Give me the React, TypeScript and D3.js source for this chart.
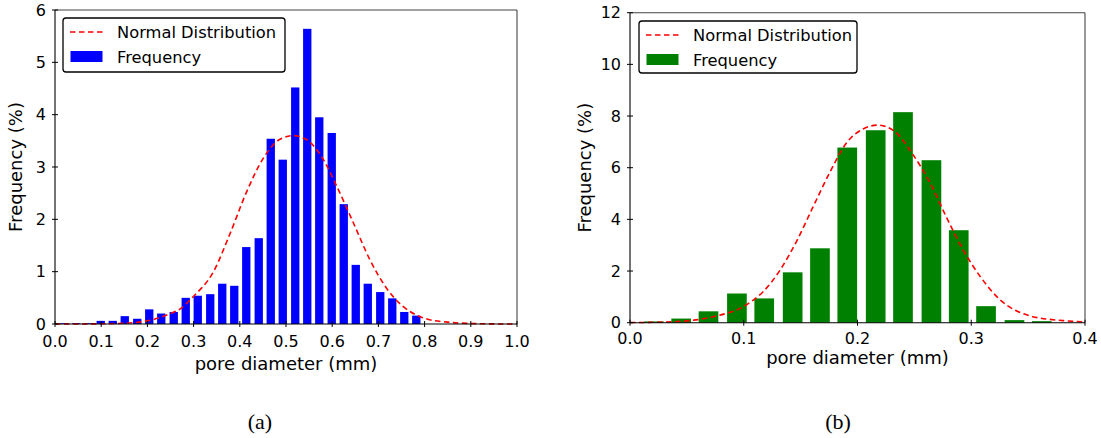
import React from "react";
import * as d3 from "d3";

// ---------- Data: panel (a) ----------
const binCentersA = [
  0.020, 0.046, 0.072, 0.099, 0.125, 0.151, 0.178, 0.204, 0.230, 0.257,
  0.283, 0.309, 0.336, 0.362, 0.388, 0.414, 0.441, 0.467, 0.493, 0.520,
  0.546, 0.572, 0.599, 0.625, 0.651, 0.677, 0.704, 0.730, 0.756, 0.782,
];
const freqA = [
  0.015, 0.015, 0.015, 0.06, 0.06, 0.15, 0.10, 0.28, 0.20, 0.23,
  0.50, 0.54, 0.57, 0.77, 0.73, 1.47, 1.64, 3.54, 3.14, 4.52,
  5.64, 3.95, 3.65, 2.29, 1.13, 0.77, 0.61, 0.49, 0.23, 0.16,
];
const normXA = [
  0, 0.05, 0.1, 0.15, 0.2, 0.25, 0.271, 0.299, 0.343, 0.379, 0.415, 0.451,
  0.487, 0.516, 0.545, 0.581, 0.61, 0.646, 0.682, 0.718, 0.754, 0.79, 0.807,
  0.85, 0.9, 0.95, 1.0,
];
const normYA = [
  0, 0.001, 0.004, 0.015, 0.06, 0.2, 0.29, 0.52, 1.0, 1.73, 2.53, 3.17,
  3.53, 3.6, 3.52, 3.14, 2.63, 1.93, 1.22, 0.68, 0.33, 0.14, 0.09,
  0.035, 0.01, 0.002, 0,
];
const xTicksA = [0, 0.1, 0.2, 0.3, 0.4, 0.5, 0.6, 0.7, 0.8, 0.9, 1.0];
const yTicksA = [0, 1, 2, 3, 4, 5, 6];

// ---------- Data: panel (b) ----------
const binCentersB = [
  0.021, 0.045, 0.069, 0.094, 0.118, 0.143, 0.167, 0.191, 0.216, 0.240,
  0.265, 0.289, 0.313, 0.338, 0.362,
];
const freqB = [
  0.05, 0.16, 0.44, 1.13, 0.94, 1.95, 2.88, 6.78, 7.45, 8.15,
  6.29, 3.58, 0.64, 0.10, 0.06,
];
const normXB = [
  0, 0.02, 0.044, 0.073, 0.103, 0.117, 0.132, 0.147, 0.161, 0.176, 0.19,
  0.205, 0.218, 0.232, 0.249, 0.264, 0.278, 0.293, 0.308, 0.325, 0.352,
  0.381, 0.4,
];
const normYB = [
  0.005, 0.015, 0.05, 0.23, 0.71, 1.2, 2.04, 3.2, 4.49, 5.85, 6.94,
  7.5, 7.65, 7.43, 6.49, 5.4, 4.1, 2.81, 1.78, 0.9, 0.26,
  0.08, 0.03,
];
const xTicksB = [0, 0.1, 0.2, 0.3, 0.4];
const yTicksB = [0, 2, 4, 6, 8, 10, 12];

const legendLabels = ["Normal Distribution", "Frequency"];
const xLabel = "pore diameter (mm)";
const yLabel = "Frequency (%)";

const FONT = "'DejaVu Sans', Verdana, sans-serif";

type PanelProps = {
  left: number;
  right: number;
  top: number;
  bottom: number;
  xMax: number;
  yMax: number;
  xTicks: number[];
  yTicks: number[];
  centers: number[];
  values: number[];
  barWidth: number;
  color: string;
  nx: number[];
  ny: number[];
  tickLabelDy: number;
  xLabelY: number;
  yLabelX: number;
  legend: { x: number; y: number; w: number; h: number };
  caption: string;
  captionX: number;
};

function Panel(p: PanelProps) {
  const x = d3.scaleLinear().domain([0, p.xMax]).range([p.left, p.right]);
  const y = d3.scaleLinear().domain([0, p.yMax]).range([p.bottom, p.top]);
  const line = d3
    .line<number>()
    .x((_, i) => x(p.nx[i]))
    .y((d) => y(d))
    .curve(d3.curveMonotoneX);
  const bw = x(p.barWidth) - x(0);
  const lg = p.legend;
  return (
    <g>
      {p.centers.map((c, i) => (
        <rect
          key={i}
          x={x(c) - bw / 2}
          y={y(p.values[i])}
          width={bw}
          height={y(0) - y(p.values[i])}
          fill={p.color}
        />
      ))}
      <path
        d={line(p.ny) || ""}
        fill="none"
        stroke="#ff0000"
        strokeWidth={1.6}
        strokeDasharray="5.5,3.5"
      />
      <line x1={p.left} x2={p.right} y1={p.top} y2={p.top} stroke="#444" strokeWidth={1.1} />
      <line x1={p.right} x2={p.right} y1={p.top} y2={p.bottom} stroke="#444" strokeWidth={1.1} />
      <line x1={p.left} x2={p.left} y1={p.top} y2={p.bottom} stroke="#000" strokeWidth={1.1} />
      <line x1={p.left} x2={p.right} y1={p.bottom} y2={p.bottom} stroke="#000" strokeWidth={1.1} />
      {p.xTicks.map((t) => (
        <g key={"x" + t}>
          <line x1={x(t)} x2={x(t)} y1={p.bottom - 3} y2={p.bottom + 3} stroke="#000" strokeWidth={1} />
          <text
            x={x(t)}
            y={p.bottom + p.tickLabelDy}
            textAnchor="middle"
            fontFamily={FONT}
            fontSize={16}
            fill="#000"
          >
            {d3.format(".1f")(t)}
          </text>
        </g>
      ))}
      {p.yTicks.map((t) => (
        <g key={"y" + t}>
          <line x1={p.left - 3} x2={p.left + 3} y1={y(t)} y2={y(t)} stroke="#000" strokeWidth={1} />
          <text
            x={p.left - 9}
            y={y(t)}
            dy="0.36em"
            textAnchor="end"
            fontFamily={FONT}
            fontSize={16}
            fill="#000"
          >
            {t}
          </text>
        </g>
      ))}
      <text
        x={(p.left + p.right) / 2}
        y={p.xLabelY}
        textAnchor="middle"
        fontFamily={FONT}
        fontSize={18}
        fill="#000"
      >
        {xLabel}
      </text>
      <text
        transform={`translate(${p.yLabelX},${(p.top + p.bottom) / 2}) rotate(-90)`}
        textAnchor="middle"
        fontFamily={FONT}
        fontSize={18}
        fill="#000"
      >
        {yLabel}
      </text>
      <rect
        x={lg.x}
        y={lg.y}
        width={lg.w}
        height={lg.h}
        rx={3}
        fill="#fff"
        stroke="#000"
        strokeWidth={1.3}
      />
      <line
        x1={lg.x + 7}
        x2={lg.x + 40}
        y1={lg.y + 14}
        y2={lg.y + 14}
        stroke="#ff0000"
        strokeWidth={1.6}
        strokeDasharray="5.5,3.5"
      />
      <text x={lg.x + 54} y={lg.y + 19.5} fontFamily={FONT} fontSize={16.3} fill="#000">
        {legendLabels[0]}
      </text>
      <rect x={lg.x + 7.5} y={lg.y + 33} width={32} height={11} fill={p.color} />
      <text x={lg.x + 54} y={lg.y + 44.5} fontFamily={FONT} fontSize={16.3} fill="#000">
        {legendLabels[1]}
      </text>
      <text
        x={p.captionX}
        y={429}
        textAnchor="middle"
        fontFamily="'Liberation Serif', 'Times New Roman', serif"
        fontSize={22}
        fill="#000"
      >
        {p.caption}
      </text>
    </g>
  );
}

export default function App() {
  return (
    <svg
      width={1101}
      height={438}
      style={{ position: "absolute", left: 0, top: 0, background: "#fff" }}
    >
      <rect x={0} y={0} width={1101} height={438} fill="#fff" />
      <Panel
        left={55}
        right={517}
        top={10}
        bottom={324}
        xMax={1.0}
        yMax={6}
        xTicks={xTicksA}
        yTicks={yTicksA}
        centers={binCentersA}
        values={freqA}
        barWidth={0.018}
        color="#0000ff"
        nx={normXA}
        ny={normYA}
        tickLabelDy={22.5}
        xLabelY={370}
        yLabelX={22}
        legend={{ x: 63, y: 18, w: 222, h: 54 }}
        caption="(a)"
        captionX={260}
      />
      <Panel
        left={630}
        right={1085}
        top={12.7}
        bottom={322.7}
        xMax={0.4}
        yMax={12}
        xTicks={xTicksB}
        yTicks={yTicksB}
        centers={binCentersB}
        values={freqB}
        barWidth={0.0173}
        color="#008000"
        nx={normXB}
        ny={normYB}
        tickLabelDy={21}
        xLabelY={364}
        yLabelX={591}
        legend={{ x: 639, y: 21, w: 218, h: 52 }}
        caption="(b)"
        captionX={838}
      />
    </svg>
  );
}
